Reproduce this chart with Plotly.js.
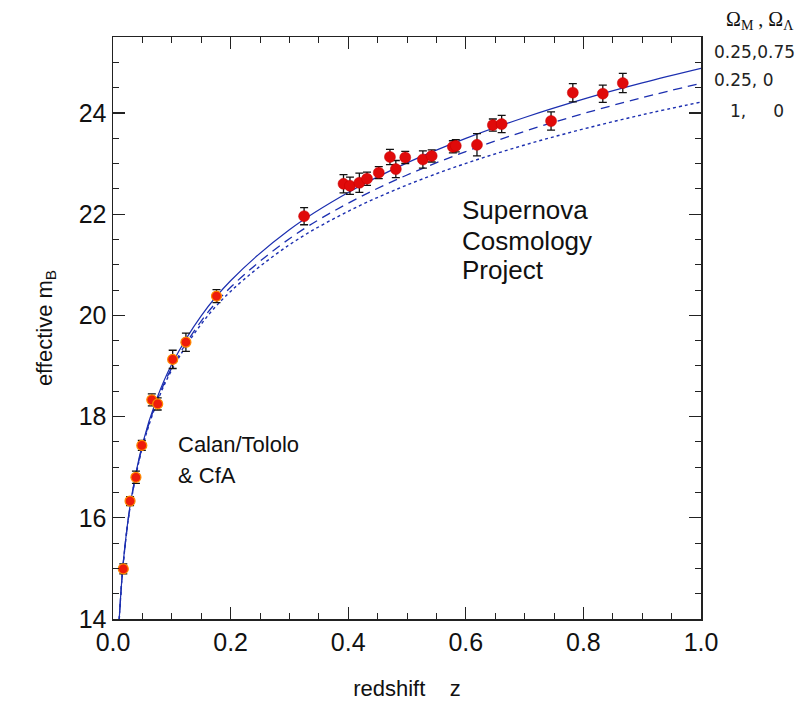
<!DOCTYPE html>
<html>
<head>
<meta charset="utf-8">
<script src="https://cdn.plot.ly/plotly-3.0.1.min.js"></script>
<style>html,body{margin:0;padding:0;background:#fff;}#chart{width:812px;height:701px;}</style>
</head>
<body>
<div id="chart"></div>
<script>
// Calan/Tololo & CfA (low redshift)
const lowZ   = [0.0175, 0.029, 0.039, 0.049, 0.066, 0.076, 0.1015, 0.124, 0.176];
const lowM   = [14.99, 16.33, 16.80, 17.43, 18.33, 18.25, 19.13, 19.47, 20.38];
const lowErr = [0.10, 0.09, 0.12, 0.10, 0.12, 0.12, 0.18, 0.18, 0.13];

// Supernova Cosmology Project (high redshift)
const scpZ   = [0.325, 0.392, 0.403, 0.419, 0.432, 0.452, 0.471, 0.481, 0.497, 0.527, 0.542, 0.578, 0.583, 0.619, 0.646, 0.661, 0.745, 0.782, 0.833, 0.867];
const scpM   = [21.96, 22.60, 22.56, 22.62, 22.70, 22.82, 23.13, 22.89, 23.12, 23.08, 23.15, 23.33, 23.35, 23.37, 23.76, 23.78, 23.84, 24.40, 24.38, 24.59];
const scpErr = [0.17, 0.18, 0.17, 0.19, 0.13, 0.12, 0.15, 0.17, 0.12, 0.17, 0.12, 0.12, 0.12, 0.22, 0.12, 0.17, 0.18, 0.18, 0.17, 0.19];

// Model curves
const curveZ    = [0.01, 0.015, 0.02, 0.03, 0.05, 0.075, 0.1, 0.15, 0.2, 0.3, 0.4, 0.5, 0.6, 0.7, 0.8, 0.9, 1.0];
const mLambda   = [13.888, 14.777, 15.411, 16.308, 17.451, 18.371, 19.035, 19.991, 20.684, 21.692, 22.428, 23.012, 23.496, 23.910, 24.272, 24.592, 24.879];
const mOpen     = [13.880, 14.766, 15.395, 16.285, 17.413, 18.316, 18.963, 19.887, 20.554, 21.515, 22.216, 22.773, 23.237, 23.636, 23.987, 24.302, 24.586];
const mFlat     = [13.876, 14.760, 15.387, 16.273, 17.392, 18.285, 18.922, 19.826, 20.473, 21.394, 22.056, 22.575, 23.002, 23.366, 23.682, 23.963, 24.215];

const xTicks = [0.0, 0.2, 0.4, 0.6, 0.8, 1.0];
const xTickText = ['0.0', '0.2', '0.4', '0.6', '0.8', '1.0'];
const yTicks = [14, 16, 18, 20, 22, 24];

const legendHeader = 'Ω<sub>M</sub> , Ω<sub>Λ</sub>';
const legendRows = ['0.25,0.75', '0.25, 0', '1,\u00A0\u00A0\u00A0\u00A0\u00A00'];

const lineColor = '#1c2fb0';
const traces = [
  {x: curveZ, y: mFlat, mode: 'lines', line: {color: lineColor, width: 1.4, dash: 'dot', shape: 'spline'}, hoverinfo: 'skip', showlegend: false},
  {x: curveZ, y: mOpen, mode: 'lines', line: {color: lineColor, width: 1.3, dash: '9px,6px', shape: 'spline'}, hoverinfo: 'skip', showlegend: false},
  {x: curveZ, y: mLambda, mode: 'lines', line: {color: lineColor, width: 1.2, shape: 'spline'}, hoverinfo: 'skip', showlegend: false},
  {x: lowZ, y: lowM, mode: 'markers', showlegend: false,
   error_y: {type: 'data', array: lowErr, color: '#111', thickness: 1.3, width: 4},
   marker: {size: 10, color: '#ee1c0c', line: {color: '#ff8a00', width: 1.2}}},
  {x: scpZ, y: scpM, mode: 'markers', showlegend: false,
   error_y: {type: 'data', array: scpErr, color: '#111', thickness: 1.3, width: 4},
   marker: {size: 11, color: '#e00a0a', line: {color: '#c80000', width: 0.5}}}
];

const tickFont = {family: 'Liberation Sans, Arial, sans-serif', size: 25, color: '#111'};
const textFont = {family: 'Liberation Sans, Arial, sans-serif', size: 26, color: '#111'};
const legFont = {family: 'DejaVu Sans, sans-serif', size: 17, color: '#222'};
const titleFont = {family: 'Liberation Sans, Arial, sans-serif', size: 22, color: '#111'};

function ann(text, x, y, font, xanchor) {
  return {text: text, xref: 'paper', yref: 'paper', x: x, y: y, xanchor: xanchor || 'left', yanchor: 'middle', showarrow: false, font: font};
}

const layout = {
  width: 812, height: 701,
  margin: {l: 113, r: 111, t: 37, b: 82},
  paper_bgcolor: '#fff', plot_bgcolor: '#fff',
  showlegend: false,
  xaxis: {
    range: [0, 1.0], tickvals: xTicks, ticktext: xTickText,
    ticks: 'inside', ticklen: 12, tickwidth: 1.2, tickcolor: '#222',
    minor: {dtick: 0.05, tick0: 0, ticks: 'inside', ticklen: 6, tickwidth: 1, tickcolor: '#222'},
    showline: true, linecolor: '#222', linewidth: 1.5, mirror: 'allticks',
    showgrid: false, zeroline: false, tickfont: tickFont,
    title: {text: 'redshift\u00A0\u00A0\u00A0\u00A0z', font: titleFont, standoff: 26}
  },
  yaxis: {
    range: [14, 25.5], tickvals: yTicks,
    ticks: 'inside', ticklen: 12, tickwidth: 1.2, tickcolor: '#222',
    minor: {dtick: 0.5, tick0: 14, ticks: 'inside', ticklen: 6, tickwidth: 1, tickcolor: '#222'},
    showline: true, linecolor: '#222', linewidth: 1.5, mirror: 'allticks',
    showgrid: false, zeroline: false, tickfont: tickFont,
    title: {text: 'effective m<sub>B</sub>', font: titleFont, standoff: 20}
  },
  annotations: [
    ann('Supernova', 0.590, 0.703, textFont),
    ann('Cosmology', 0.590, 0.649, textFont),
    ann('Project', 0.590, 0.600, textFont),
    ann('Calan/Tololo', 0.107, 0.299, {family: 'Liberation Sans, Arial, sans-serif', size: 22, color: '#111'}),
    ann('&amp; CfA', 0.107, 0.246, {family: 'Liberation Sans, Arial, sans-serif', size: 22, color: '#111'}),
    ann(legendHeader, 1.100, 1.029, {family: 'Liberation Serif, Times New Roman, serif', size: 20, color: '#111'}, 'center'),
    ann(legendRows[0], 1.019, 0.974, legFont),
    ann(legendRows[1], 1.019, 0.926, legFont),
    ann(legendRows[2], 1.046, 0.873, legFont)
  ]
};

Plotly.newPlot('chart', traces, layout, {displayModeBar: false, staticPlot: true});
</script>
</body>
</html>
